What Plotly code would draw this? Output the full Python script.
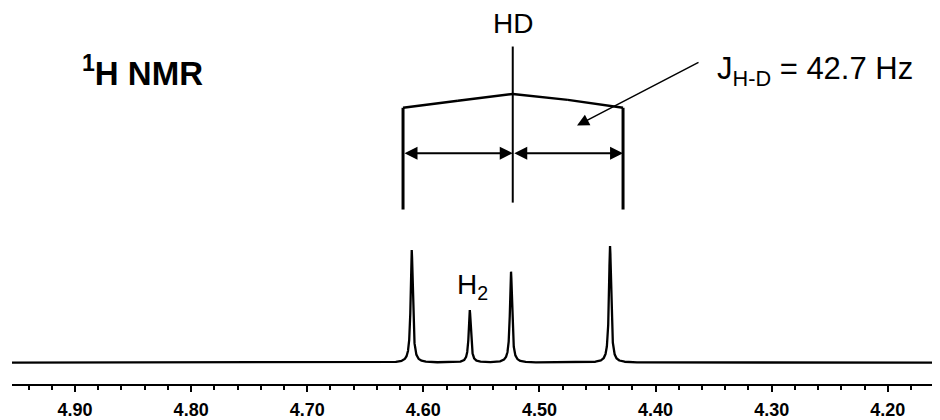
import numpy as np
import plotly.graph_objects as go

# ---- data ----
peak_ppm = [4.610, 4.560, 4.5245, 4.4392]      # HD, H2, HD, HD
peak_height = [0.966, 0.449, 0.780, 1.000]     # relative intensity
tick_vals = [4.90, 4.80, 4.70, 4.60, 4.50, 4.40, 4.30, 4.20]
tick_text = ["4.90", "4.80", "4.70", "4.60", "4.50", "4.40", "4.30", "4.20"]
bracket_ppm = [4.6175, 4.523, 4.428]           # left, centre, right lines of the HD bracket
x_range = [4.9543, 4.155]

# ---- spectrum line (Lorentzian lines at the read positions / heights) ----
gamma = 0.0011
x = np.linspace(x_range[0], x_range[1], 16001)
y = np.zeros_like(x)
for p, h in zip(peak_ppm, peak_height):
    y += h / (1.0 + ((x - p) / gamma) ** 2)

OFF = 8                # page body margin of the browser
W, H = 940 - OFF, 420 - OFF

def py(p):
    return 1 - (p - OFF) / H

def px(p):
    return (p - OFF) / W

fig = go.Figure()
fig.add_trace(go.Scatter(x=x, y=y, mode="lines",
                         line=dict(color="black", width=2.3),
                         hoverinfo="skip", showlegend=False))

shapes = []
L, C, R = bracket_ppm
for xv in (L, R):
    shapes.append(dict(type="line", xref="x", yref="paper", x0=xv, x1=xv,
                       y0=py(109), y1=py(212), line=dict(color="black", width=3)))
shapes.append(dict(type="line", xref="x", yref="paper", x0=C, x1=C,
                   y0=py(47), y1=py(205), line=dict(color="black", width=2)))
roof_pts = [(L, 109), ((L + C) / 2, 102), (C, 95), ((C + R) / 2, 101), (R, 109)]
for (xa, ya), (xb, yb) in zip(roof_pts[:-1], roof_pts[1:]):
    shapes.append(dict(type="line", xref="x", yref="paper", x0=xa, x1=xb,
                       y0=py(ya), y1=py(yb), line=dict(color="black", width=2.5)))

annotations = []
for xa, xb in ((L, C), (C, R)):
    annotations.append(dict(x=xb, y=py(155), ax=xa, ay=0,
                            xref="x", yref="paper", axref="x", ayref="pixel",
                            showarrow=True, arrowhead=2, startarrowhead=2,
                            arrowside="end+start", arrowsize=1.3, startarrowsize=1.3,
                            arrowwidth=2, arrowcolor="black", text=""))
annotations.append(dict(x=px(577), y=py(127), ax=700 - 577, ay=63 - 127,
                        xref="paper", yref="paper", axref="pixel", ayref="pixel",
                        showarrow=True, arrowhead=2, arrowsize=1.6, arrowwidth=1.5,
                        arrowcolor="black", text=""))

font = "Liberation Sans, Arial, sans-serif"
common = dict(showarrow=False, xanchor="center", yanchor="middle", yref="paper")
annotations += [
    dict(x=C, y=py(24), xref="x", text="HD",
         font=dict(family=font, size=28, color="black"), **common),
    dict(x=px(142), y=py(72), xref="paper", text="<sup>1</sup>H NMR",
         font=dict(family=font, size=33, color="black", weight="bold"), **common),
    dict(x=px(815), y=py(72), xref="paper", text="J<sub>H-D</sub> = 42.7 Hz",
         font=dict(family=font, size=31, color="black"), **common),
    dict(x=px(472), y=py(290), xref="paper", text="H<sub>2</sub>",
         font=dict(family=font, size=28, color="black"), **common),
]

fig.update_layout(
    width=W, height=H,
    margin=dict(l=0, r=0, t=0, b=0),
    paper_bgcolor="white", plot_bgcolor="white",
    shapes=shapes, annotations=annotations,
    xaxis=dict(domain=[(12 - OFF) / W, 1], range=x_range, showgrid=False, zeroline=False,
               showline=True, linecolor="black", linewidth=2,
               tickmode="array", tickvals=tick_vals, ticktext=tick_text,
               ticks="outside", ticklen=6, tickwidth=2, tickcolor="black",
               ticklabelstandoff=2,
               tickfont=dict(family=font, size=18, color="black", weight="bold"),
               minor=dict(dtick=0.02, tick0=4.2, ticks="outside", ticklen=4,
                          tickwidth=2, tickcolor="black", showgrid=False)),
    yaxis=dict(domain=[1 - (389 - OFF) / H, 1],
               range=[-22 / 118, (389 - OFF - 22) / 118],
               visible=False, showgrid=False, zeroline=False),
)

fig.write_html("out.html")
